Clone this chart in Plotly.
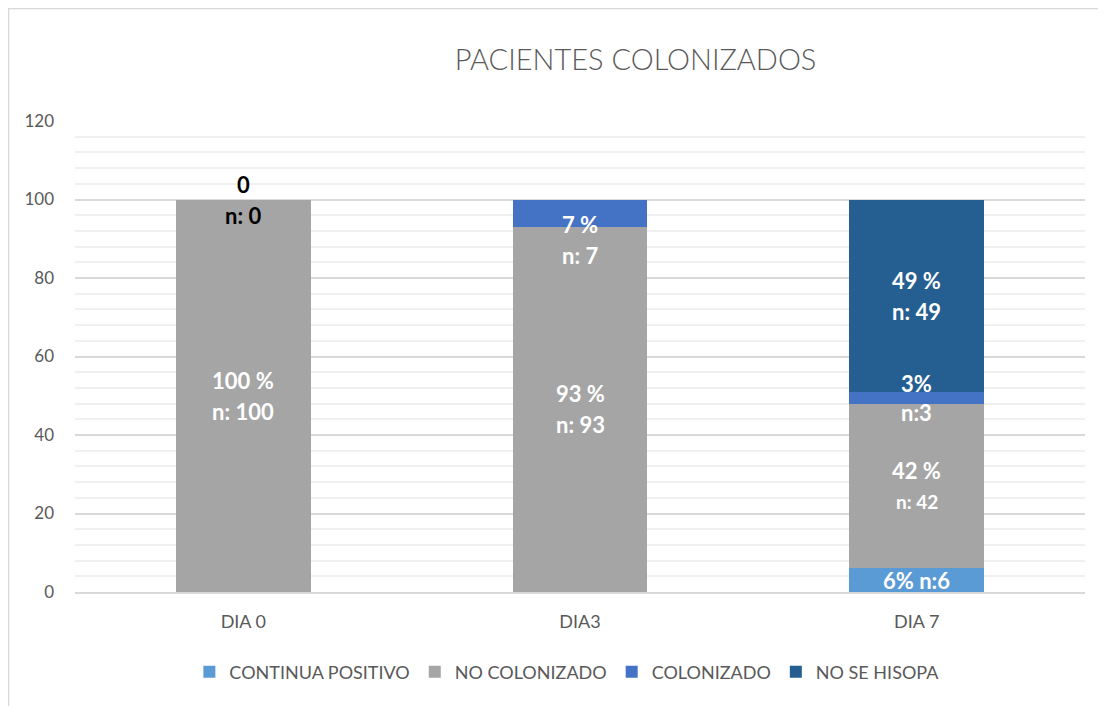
import plotly.graph_objects as go

categories = ["DIA 0", "DIA3", "DIA 7"]
series_names = ["CONTINUA POSITIVO", "NO COLONIZADO", "COLONIZADO", "NO SE HISOPA"]
continua_positivo = [0, 0, 6]
no_colonizado = [100, 93, 42]
colonizado = [0, 7, 3]
no_se_hisopa = [0, 0, 49]
colors = ["#5B9BD5", "#A5A5A5", "#4472C4", "#255E91"]

# segment labels: (series index, category index, lines)
labels = [
    (1, 0, ["100 %", "n: 100"]),
    (2, 0, ["0", "n: 0"]),
    (1, 1, ["93 %", "n: 93"]),
    (2, 1, ["7 %", "n: 7"]),
    (0, 2, ["6% n:6"]),
    (1, 2, ["42 %", "n: 42"]),
    (2, 2, ["3%", "n:3"]),
    (3, 2, ["49 %", "n: 49"]),
]

values = [continua_positivo, no_colonizado, colonizado, no_se_hisopa]

fig = go.Figure()
for name, vals, col in zip(series_names, values, colors):
    fig.add_trace(go.Bar(x=categories, y=vals, name=name, marker=dict(color=col, line=dict(width=0)),
                         hoverinfo="x+y+name"))

annotations = []
for si, ci, lines in labels:
    base = sum(values[k][ci] for k in range(si))
    v = values[si][ci]
    yc = base + v / 2
    color = "white"
    shift = 0
    if v == 0:
        color = "black"
    if si == 2 and ci == 1:
        shift = -27
    n = len(lines)
    gap = 31 if not (si == 2 and ci == 2) else 29
    for li, t in enumerate(lines):
        off = (n - 1) / 2 * gap - li * gap
        size = 22
        if t == "n: 42":
            size = 19
        annotations.append(dict(x=categories[ci], y=yc, text="<b>" + t + "</b>", showarrow=False,
                                xref="x", yref="y", yshift=off + shift,
                                font=dict(family="Lato", size=size, color=color)))

fig.update_layout(
    barmode="stack",
    bargap=0.6,
    width=1106, height=706,
    margin=dict(l=67, r=29, t=113, b=122),
    paper_bgcolor="white", plot_bgcolor="white",
    title=dict(text="PACIENTES COLONIZADOS", x=0.555, xref="paper", xanchor="center",
               y=0.926, yref="container", yanchor="middle",
               font=dict(family="Lato", size=29, color="#595959", weight=300)),
    font=dict(family="Lato", color="#595959", size=16),
    legend=dict(orientation="h", x=0.487, xanchor="center", y=-0.17, yanchor="middle",
                font=dict(family="Lato", size=18, color="#595959"), traceorder="normal",
                itemwidth=30),
    annotations=annotations,
    shapes=[dict(type="rect", xref="paper", yref="paper", x0=-0.0658, x1=1.1, y0=-0.3, y1=1.2389,
                 line=dict(color="#D9D9D9", width=1.5), layer="below")],
)
fig.update_xaxes(showline=True, linecolor="#D9D9D9", linewidth=1.5, ticks="",
                 tickfont=dict(size=18, color="#595959"), showgrid=False, ticklabelstandoff=13)
fig.update_yaxes(range=[0, 120], dtick=20, showgrid=True, gridcolor="#D9D9D9", gridwidth=1.5,
                 zeroline=False, showline=False, ticks="",
                 minor=dict(dtick=4, showgrid=True, gridcolor="#F0F0F0", gridwidth=1.5),
                 tickfont=dict(size=17, color="#595959"), ticklabelstandoff=20)

fig.write_html("out.html")
